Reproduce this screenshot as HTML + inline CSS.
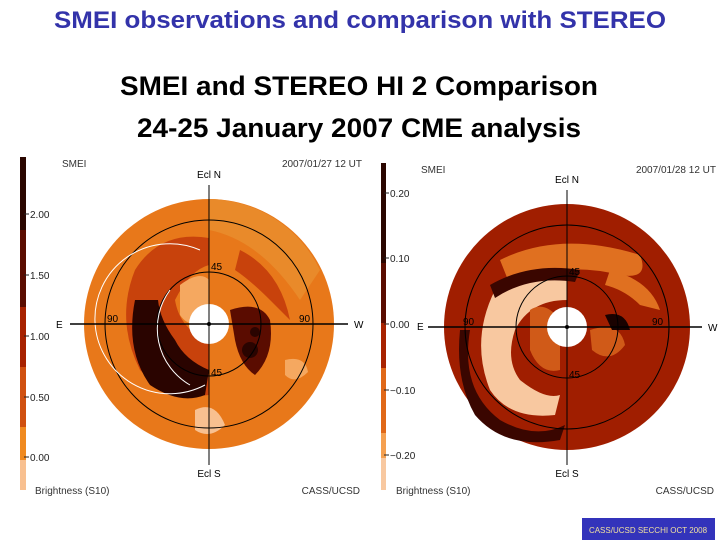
<!DOCTYPE html>
<html><head><meta charset="utf-8"><style>
body{margin:0;background:#fff;width:720px;height:540px;overflow:hidden;font-family:"Liberation Sans",sans-serif}
svg{position:absolute;left:0;top:0}
</style></head><body>
<svg width="720" height="540" viewBox="0 0 720 540" xmlns="http://www.w3.org/2000/svg" font-family="Liberation Sans, sans-serif">
<text x="54" y="28" textLength="612" lengthAdjust="spacingAndGlyphs" font-size="24" font-weight="bold" fill="#3333aa">SMEI observations and comparison with STEREO</text>
<text x="120" y="95" textLength="478" lengthAdjust="spacingAndGlyphs" font-size="27" font-weight="bold" fill="#000">SMEI and STEREO HI 2 Comparison</text>
<text x="137" y="137" textLength="444" lengthAdjust="spacingAndGlyphs" font-size="27" font-weight="bold" fill="#000">24-25 January 2007 CME analysis</text>

<!-- LEFT PANEL -->
<g>
 <g>
  <rect x="20" y="157" width="6" height="73" fill="#2a0600"/>
  <rect x="20" y="230" width="6" height="77" fill="#5a0c00"/>
  <rect x="20" y="307" width="6" height="60" fill="#a82200"/>
  <rect x="20" y="367" width="6" height="60" fill="#d05010"/>
  <rect x="20" y="427" width="6" height="33" fill="#f08a20"/>
  <rect x="20" y="460" width="6" height="30" fill="#f8c090"/>
 </g>
 <g id="lticks" font-size="10" fill="#222"></g>
 <text x="62" y="167" font-size="10" fill="#333">SMEI</text>
 <text x="362" y="167" font-size="10" fill="#333" text-anchor="end">2007/01/27 12 UT</text>
 <text x="35" y="494" font-size="10" fill="#333">Brightness (S10)</text>
 <text x="360" y="494" font-size="10" fill="#333" text-anchor="end">CASS/UCSD</text>
 <circle cx="209" cy="324" r="125" fill="#e8781a"/>
 <path d="M209 199 A125 125 0 0 1 320 270 L300 300 Q260 240 209 230Z" fill="#e98a2a"/>
 <path d="M209 238 Q160 230 135 270 Q115 320 140 370 Q170 400 209 395 L209 340 Q180 330 175 300 Q190 270 209 265Z" fill="#c8420c"/>
 <path d="M135 300 Q125 350 150 385 Q180 405 205 395 L209 370 Q185 360 175 340 Q160 320 158 300Z" fill="#2a0400"/>
 <path d="M180 285 Q200 270 209 280 L209 320 Q190 330 180 315Z" fill="#f5a860"/>
 <path d="M230 310 Q260 300 270 320 Q275 355 255 375 Q240 365 235 340Z" fill="#5a0c00"/>
 <circle cx="250" cy="350" r="8" fill="#2a0400"/>
 <circle cx="255" cy="332" r="5" fill="#2a0400"/>
 <path d="M240 250 Q280 270 290 320 L270 300 Q250 280 235 270Z" fill="#c8420c"/>
 <path d="M195 410 Q215 400 225 425 Q210 440 195 430Z" fill="#f8c090"/>
 <path d="M285 360 Q305 355 308 372 Q295 385 285 375Z" fill="#f5a860"/>
 <circle cx="209" cy="324" r="104" fill="none" stroke="#000" stroke-width="1"/>
 <circle cx="209" cy="324" r="52" fill="none" stroke="#000" stroke-width="1"/>
 <path d="M200 250 A75 75 0 1 0 205 385" fill="none" stroke="#fff" stroke-width="1"/>
 <path d="M170 290 A65 65 0 0 0 190 385" fill="none" stroke="#fff" stroke-width="1"/>
 <circle cx="209" cy="324" r="20" fill="#fff"/>
 <line x1="209" y1="185" x2="209" y2="465" stroke="#000"/>
 <line x1="70" y1="324" x2="348" y2="324" stroke="#000" stroke-width="1.5"/>
 <circle cx="209" cy="324" r="2" fill="#000"/>
 <text x="209" y="178" font-size="10" text-anchor="middle">Ecl N</text>
 <text x="209" y="477" font-size="10" text-anchor="middle">Ecl S</text>
 <text x="56" y="328" font-size="10">E</text>
 <text x="354" y="328" font-size="10">W</text>
 <text x="107" y="322" font-size="10">90</text>
 <text x="299" y="322" font-size="10">90</text>
 <text x="211" y="270" font-size="10">45</text>
 <text x="211" y="376" font-size="10">45</text>
</g>

<!-- RIGHT PANEL -->
<g>
 <g>
  <rect x="381" y="163" width="5" height="100" fill="#2a0600"/>
  <rect x="381" y="263" width="5" height="60" fill="#5a0c00"/>
  <rect x="381" y="323" width="5" height="45" fill="#a82200"/>
  <rect x="381" y="368" width="5" height="65" fill="#e06818"/>
  <rect x="381" y="433" width="5" height="25" fill="#f5a050"/>
  <rect x="381" y="458" width="5" height="32" fill="#f8c8a0"/>
 </g>
 <g id="rticks" font-size="10" fill="#222"></g>
 <text x="421" y="173" font-size="10" fill="#333">SMEI</text>
 <text x="716" y="173" font-size="10" fill="#333" text-anchor="end">2007/01/28 12 UT</text>
 <text x="396" y="494" font-size="10" fill="#333">Brightness (S10)</text>
 <text x="714" y="494" font-size="10" fill="#333" text-anchor="end">CASS/UCSD</text>
 <circle cx="567" cy="327" r="123" fill="#a01e00"/>
 <path d="M500 260 Q560 230 640 255 Q650 280 620 275 Q560 260 510 285Z" fill="#e07020"/>
 <path d="M495 290 Q540 265 567 275 L567 300 Q530 300 515 330 Q505 360 520 380 Q545 400 560 395 L555 415 Q510 420 490 390 Q470 340 495 290Z" fill="#f8c8a0"/>
 <path d="M470 330 Q460 390 500 420 Q535 440 565 425 L560 440 Q505 450 475 415 Q455 380 460 330Z" fill="#3a0600"/>
 <path d="M490 285 Q530 262 580 270 L575 282 Q530 275 495 298Z" fill="#3a0600"/>
 <path d="M530 310 Q545 300 560 320 L560 370 Q540 375 530 350Z" fill="#d05a18"/>
 <path d="M590 330 Q620 320 625 345 Q610 365 592 350Z" fill="#d05a18"/>
 <path d="M605 315 Q625 310 630 330 L612 330Z" fill="#1a0200"/>
 <path d="M610 270 Q650 280 660 310 L640 305 Q625 290 605 285Z" fill="#e07020"/>
 <circle cx="567" cy="327" r="102" fill="none" stroke="#000" stroke-width="1"/>
 <circle cx="567" cy="327" r="51" fill="none" stroke="#000" stroke-width="1"/>
 <circle cx="567" cy="327" r="20" fill="#fff"/>
 <line x1="567" y1="190" x2="567" y2="465" stroke="#000"/>
 <line x1="428" y1="327" x2="702" y2="327" stroke="#000" stroke-width="1.5"/>
 <circle cx="567" cy="327" r="2" fill="#000"/>
 <text x="567" y="183" font-size="10" text-anchor="middle">Ecl N</text>
 <text x="567" y="477" font-size="10" text-anchor="middle">Ecl S</text>
 <text x="417" y="330" font-size="10">E</text>
 <text x="708" y="331" font-size="10">W</text>
 <text x="463" y="325" font-size="10">90</text>
 <text x="652" y="325" font-size="10">90</text>
 <text x="569" y="275" font-size="10">45</text>
 <text x="569" y="378" font-size="10">45</text>
</g>

<rect x="582" y="518" width="133" height="22" fill="#3333bb"/>
<text x="648" y="533" font-size="8" fill="#f0e0a0" text-anchor="middle">CASS/UCSD SECCHI OCT 2008</text>
</svg>
<script>
const leftTickLabels=["2.00","1.50","1.00","0.50","0.00"];
const leftTickY=[214,275,336,397,457];
const rightTickLabels=["0.20","0.10","0.00","\u22120.10","\u22120.20"];
const rightTickY=[193,258,324,390,455];
function ticks(id,x,labels,ys){
 const g=document.getElementById(id);
 labels.forEach((l,i)=>{
  const ln=document.createElementNS("http://www.w3.org/2000/svg","line");
  ln.setAttribute('x1',x-4);ln.setAttribute('x2',x+1);ln.setAttribute('y1',ys[i]);ln.setAttribute('y2',ys[i]);ln.setAttribute('stroke','#222');
  
  
  g.appendChild(ln);
  const t=document.createElementNS("http://www.w3.org/2000/svg","text");
  t.setAttribute('x',x+2);t.setAttribute('y',ys[i]+4);t.textContent=l;
  
  
  g.appendChild(t);
 });
}
ticks('lticks',28,leftTickLabels,leftTickY);
ticks('rticks',388,rightTickLabels,rightTickY);
</script>
</body></html>
